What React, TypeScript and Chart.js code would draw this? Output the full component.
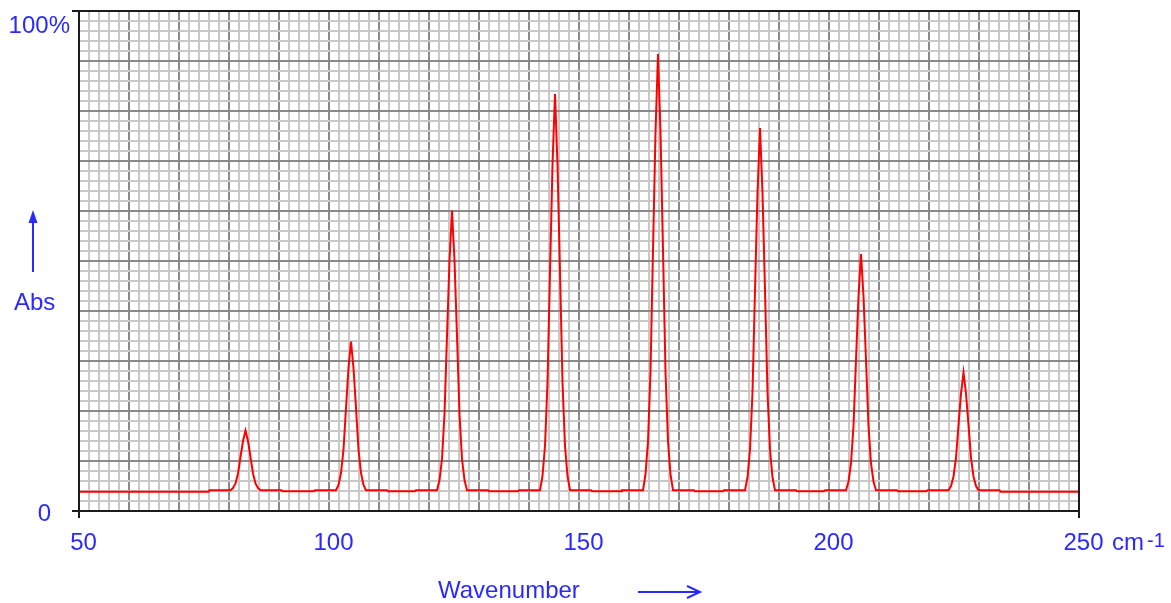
import React, { useEffect, useRef } from 'react';
import { Chart, registerables } from 'chart.js';

Chart.register(...registerables);

// Wavenumber (cm-1) of each sampled point of the spectrum
const wavenumbers = [
  50,
  75.9, 76.1, 80.3, 80.8, 81.3, 81.8, 82.3, 82.8, 83.3, 83.8, 84.3, 84.8, 85.3, 85.8, 86.3, 90.5, 90.7,
  97.0, 97.2, 101.4, 101.9, 102.4, 102.9, 103.4, 103.9, 104.4, 104.9, 105.4, 105.9, 106.4, 106.9, 107.4, 111.6, 111.8,
  117.2, 117.4, 121.6, 122.1, 122.6, 123.1, 123.6, 124.1, 124.6, 125.1, 125.6, 126.1, 126.6, 127.1, 127.6, 131.8, 132.0,
  137.8, 138.0, 142.2, 142.7, 143.2, 143.7, 144.2, 144.7, 145.2, 145.7, 146.2, 146.7, 147.2, 147.7, 148.2, 152.4, 152.6,
  158.4, 158.6, 162.8, 163.3, 163.8, 164.3, 164.8, 165.3, 165.8, 166.3, 166.8, 167.3, 167.8, 168.3, 168.8, 173.0, 173.2,
  178.8, 179.0, 183.2, 183.7, 184.2, 184.7, 185.2, 185.7, 186.2, 186.7, 187.2, 187.7, 188.2, 188.7, 189.2, 193.4, 193.6,
  199.0, 199.2, 203.4, 203.9, 204.4, 204.9, 205.4, 205.9, 206.4, 206.9, 207.4, 207.9, 208.4, 208.9, 209.4, 213.6, 213.8,
  219.5, 219.7, 223.9, 224.4, 224.9, 225.4, 225.9, 226.4, 226.9, 227.4, 227.9, 228.4, 228.9, 229.4, 229.9, 234.1, 234.3,
  250,
];

// Absorbance (%) at each wavenumber above
const absorbance = [
  3.85,
  3.85, 4.15, 4.15, 4.6, 5.5, 7.5, 10.8, 14.0, 16.1, 14.0, 10.8, 7.5, 5.5, 4.6, 4.15, 4.15, 3.95,
  3.95, 4.15, 4.15, 5.2, 7.6, 12.3, 20.6, 28.6, 33.9, 28.6, 20.6, 12.3, 7.6, 5.2, 4.15, 4.15, 3.95,
  3.95, 4.15, 4.15, 6.2, 10.4, 19.4, 35.0, 50.1, 60.1, 50.1, 35.0, 19.4, 10.4, 6.2, 4.15, 4.15, 3.95,
  3.95, 4.15, 4.15, 7.0, 13.0, 25.7, 47.8, 69.2, 83.4, 69.2, 47.8, 25.7, 13.0, 7.0, 4.15, 4.15, 3.95,
  3.95, 4.15, 4.15, 7.3, 13.9, 27.8, 52.2, 75.7, 91.4, 75.7, 52.2, 27.8, 13.9, 7.3, 4.15, 4.15, 3.95,
  3.95, 4.15, 4.15, 6.7, 12.3, 23.8, 44.1, 63.6, 76.6, 63.6, 44.1, 23.8, 12.3, 6.7, 4.15, 4.15, 3.95,
  3.95, 4.15, 4.15, 5.9, 9.5, 17.0, 30.2, 42.9, 51.4, 42.9, 30.2, 17.0, 9.5, 5.9, 4.15, 4.15, 3.95,
  3.95, 4.15, 4.15, 5.0, 6.9, 10.6, 17.2, 23.5, 27.7, 23.5, 17.2, 10.6, 6.9, 5.0, 4.15, 4.15, 3.85,
  3.85,
];

const xTickLabels = [50, 100, 150, 200, 250];
const yTickLabels = [
  { value: 100, text: '100%' },
  { value: 0, text: '0' },
];
const xUnit = 'cm';
const xUnitSup = '-1';
const xTitle = 'Wavenumber';
const yTitle = 'Abs';

const BLUE = '#2a2aff';
const FONT = '"Liberation Sans", Arial, sans-serif';

const decorPlugin = {
  id: 'decor',
  afterDraw(chart: any) {
    const { ctx, chartArea: a, scales } = chart;
    const xs = scales.x;
    const ys = scales.y;
    ctx.save();
    // frame
    ctx.strokeStyle = '#1c1c1c';
    ctx.lineWidth = 2;
    ctx.beginPath();
    ctx.moveTo(a.left - 7, a.top);
    ctx.lineTo(a.right + 1, a.top);
    ctx.moveTo(a.left - 7, a.bottom);
    ctx.lineTo(a.right + 1, a.bottom);
    ctx.moveTo(a.left, a.top);
    ctx.lineTo(a.left, a.bottom + 7);
    ctx.moveTo(a.right, a.top);
    ctx.lineTo(a.right, a.bottom + 7);
    ctx.stroke();

    ctx.fillStyle = BLUE;
    ctx.strokeStyle = BLUE;
    ctx.font = `24px ${FONT}`;
    ctx.textBaseline = 'alphabetic';

    // x tick labels
    ctx.textAlign = 'center';
    for (const v of xTickLabels) {
      ctx.fillText(String(v), xs.getPixelForValue(v) + 4.5, a.bottom + 39);
    }
    // unit
    const x250 = xs.getPixelForValue(250);
    ctx.textAlign = 'left';
    ctx.fillText(xUnit, x250 + 33, a.bottom + 39);
    ctx.font = `20px ${FONT}`;
    ctx.fillText(xUnitSup, x250 + 68, a.bottom + 36);
    ctx.font = `24px ${FONT}`;

    // y tick labels
    ctx.textAlign = 'right';
    for (const t of yTickLabels) {
      const py = ys.getPixelForValue(t.value);
      const off = t.value === 100 ? 22 : 10;
      const px = t.value === 100 ? a.left - 9 : a.left - 28;
      ctx.fillText(t.text, px, py + off);
    }

    // x title and arrow
    ctx.textAlign = 'left';
    ctx.fillText(xTitle, 438, 598);
    ctx.lineWidth = 2;
    ctx.beginPath();
    ctx.moveTo(638, 592);
    ctx.lineTo(700, 592);
    ctx.moveTo(687, 586);
    ctx.lineTo(700, 592);
    ctx.lineTo(687, 598);
    ctx.stroke();

    // y title and arrow
    ctx.fillText(yTitle, 14, 310);
    ctx.beginPath();
    ctx.moveTo(33, 272);
    ctx.lineTo(33, 220);
    ctx.stroke();
    ctx.beginPath();
    ctx.moveTo(33, 210);
    ctx.lineTo(28.5, 223);
    ctx.lineTo(37.5, 223);
    ctx.closePath();
    ctx.fill();
    ctx.restore();
  },
};

export default function App() {
  const canvasRef = useRef<HTMLCanvasElement | null>(null);

  useEffect(() => {
    const canvas = canvasRef.current;
    if (!canvas) return;
    const points = wavenumbers.map((x, i) => ({ x, y: absorbance[i] }));
    const gridColor = (ctx: any) =>
      ctx.tick && Math.round(ctx.tick.value) % 10 === 0 ? '#8a8a8a' : '#c8c8c8';
    const chart = new Chart(canvas, {
      type: 'line',
      data: {
        datasets: [
          {
            data: points,
            borderColor: '#ff0000',
            borderWidth: 2,
            pointRadius: 0,
            tension: 0,
            fill: false,
          },
        ],
      },
      options: {
        animation: false,
        responsive: false,
        events: [],
        layout: { padding: { left: 79, right: 92, top: 11, bottom: 92 } },
        plugins: { legend: { display: false }, tooltip: { enabled: false } },
        scales: {
          x: {
            type: 'linear',
            min: 50,
            max: 250,
            ticks: { display: false, stepSize: 2, autoSkip: false, maxTicksLimit: 1000 },
            grid: { color: gridColor, lineWidth: 2, drawTicks: false },
            border: { display: false },
          },
          y: {
            type: 'linear',
            min: 0,
            max: 100,
            ticks: { display: false, stepSize: 2, autoSkip: false, maxTicksLimit: 1000 },
            grid: { color: gridColor, lineWidth: 2, drawTicks: false },
            border: { display: false },
          },
        },
      },
      plugins: [decorPlugin],
    });
    return () => chart.destroy();
  }, []);

  return (
    <div style={{ position: 'absolute', left: 0, top: 0, width: 1171, height: 603, background: '#fff' }}>
      <canvas ref={canvasRef} width={1171} height={603} style={{ width: 1171, height: 603 }} />
    </div>
  );
}
